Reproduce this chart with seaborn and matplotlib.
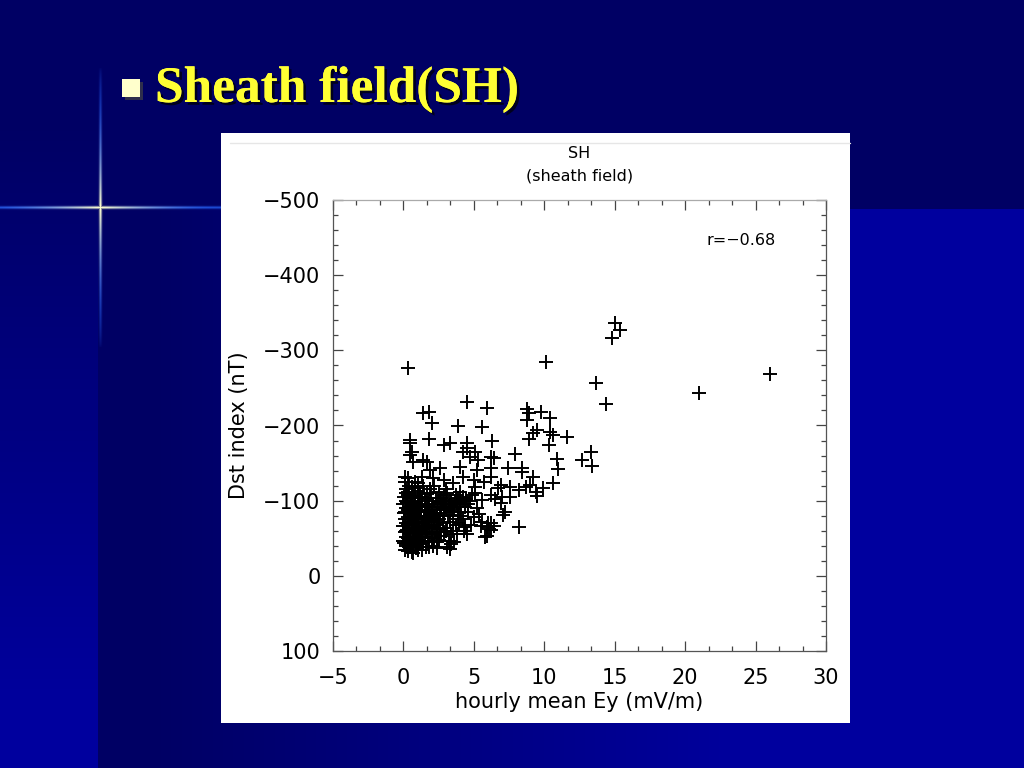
import numpy as np
import matplotlib
matplotlib.use("Agg")
import matplotlib.pyplot as plt
import matplotlib.patheffects as pe
from matplotlib.patches import Rectangle
from matplotlib.ticker import AutoMinorLocator
import seaborn as sns

# Ey (mV/m) and Dst (nT)
# dense core, x 0 - 2
core_ey = [0.1, 0.2, 0.3, 0.1, 0.4, 0.2, 0.3, 0.1, 0.4, 0.2, 0.3, 0.5, 0.5, 0.4, 0.0, 0.0, 0.2, 0.4, 0.1, 0.3, 0.5, 0.5, 0.3, 0.2,
           0.6, 0.7, 0.8, 0.9, 1.0, 1.1, 0.6, 0.7, 0.8, 0.9, 1.0, 1.1, 1.2, 0.6, 0.8, 1.0, 1.2, 0.7, 0.9, 1.1, 1.2, 0.6, 0.8, 1.0, 1.2, 0.7, 0.9, 1.1, 1.0, 0.8,
           1.3, 1.4, 1.5, 1.6, 1.7, 1.8, 1.9, 2.0, 1.3, 1.5, 1.7, 1.9, 1.4, 1.6, 1.8, 2.0, 1.3, 1.5, 1.7, 1.9, 2.0, 1.4, 1.6, 1.8]
core_dst = [-35, -42, -50, -58, -63, -70, -78, -85, -92, -100, -108, -38, -55, -72, -47, -66, -115, -120, -125, -130, -88, -104, -33, -60,
            -32, -40, -46, -53, -59, -64, -68, -75, -82, -90, -96, -103, -110, -118, -125, -35, -42, -57, -70, -79, -87, -94, -107, -113, -52, -30, -37, -48, -72, -63,
            -34, -44, -51, -58, -66, -73, -81, -88, -95, -102, -109, -116, -62, -77, -39, -46, -70, -85, -92, -55, -63, -120, -38, -99]

# more of the solid black core
core2_ey = [0.05, 0.15, 0.25, 0.35, 0.45, 0.05, 0.15, 0.25, 0.35, 0.45, 0.05, 0.15, 0.25, 0.35, 0.45, 0.1, 0.3, 0.2, 0.4, 0.0,
            0.55, 0.65, 0.75, 0.85, 0.95, 1.05, 1.15, 0.55, 0.65, 0.75, 0.85, 0.95, 1.05, 1.15, 0.6, 0.8, 1.0, 0.7, 0.9, 1.1,
            1.25, 1.35, 1.45, 1.55, 1.65, 1.75, 1.85, 1.95, 1.25, 1.45, 1.65, 1.85, 1.35, 1.55, 1.75, 1.95, 2.05, 2.15, 2.25, 2.35,
            2.45, 2.55, 2.65, 2.75, 2.05, 2.25, 2.45, 2.65, 2.85, 2.95, 3.05, 3.15, 3.25, 3.45, 3.55, 3.75, 3.85, 4.05, 4.25, 4.45,
            4.6, 4.1, 3.95, 3.65, 4.35, 2.85, 3.35, 2.55, 2.35, 1.05]
core2_dst = [-44, -52, -61, -67, -75, -83, -90, -97, -45, -82, -105, -110, -98, -112, -49, -75, -88, -40, -57, -95,
             -43, -50, -61, -70, -77, -85, -92, -100, -84, -66, -98, -44, -117, -58, -80, -72, -88, -106, -62, -94,
             -45, -56, -67, -79, -86, -93, -63, -72, -80, -75, -58, -88, -105, -95, -45, -110, -55, -68, -74, -81,
             -64, -72, -88, -95, -82, -92, -98, -104, -90, -95, -100, -80, -97, -88, -92, -102, -85, -97, -105, -102,
             -96, -80, -70, -100, -92, -58, -43, -48, -37, -123]

# x 2 - 4.2
mid_ey = [2.1, 2.2, 2.3, 2.4, 2.5, 2.6, 2.7, 2.8, 2.9, 3.0, 2.2, 2.4, 2.6, 2.8, 3.0, 2.1, 2.3, 2.5, 2.7, 2.9, 2.4, 2.6, 3.0, 2.2,
          3.1, 3.3, 3.2, 3.4, 3.1, 3.3, 3.5, 3.6, 3.8, 3.9, 3.2, 3.4, 3.7, 3.5, 3.7, 3.9, 4.0, 3.6, 3.8, 4.1, 4.2, 4.0, 3.3, 3.1]
mid_dst = [-40, -50, -58, -67, -75, -84, -92, -100, -108, -115, -78, -45, -62, -70, -88, -96, -104, -112, -53, -80, -88, -97, -60, -120,
           -38, -36, -47, -55, -64, -72, -81, -90, -97, -104, -93, -100, -108, -60, -68, -76, -85, -45, -55, -92, -100, -112, -85, -110]

# band x 4 - 8.5
band_ey = [4.3, 4.5, 4.8, 5.0, 4.6, 4.4, 4.7, 5.2, 5.4, 5.6, 5.9, 6.2, 6.4, 4.9, 5.1, 4.2, 4.4, 5.8, 6.1,
           5.95, 6.25, 6.0, 7.1, 7.2, 8.2, 6.9, 6.2, 5.6, 5.1, 7.6, 5.5, 6.5, 7.0]
band_dst = [-60, -55, -68, -78, -85, -95, -100, -90, -82, -72, -65, -70, -66, -108, -118, -75, -65, -52, -62,
            -53, -61, -70, -81, -85, -65, -97, -108, -101, -110, -105, -66, -102, -105]

# sparse upper points
upper_ey = [4.5, 5.9, 1.4, 1.85, 2.0, 3.9, 5.6, 8.8, 8.9, 9.8, 10.4, 8.8, 9.5, 9.2, 10.4, 10.6, 8.9, 10.3, 11.6,
            0.5, 0.5, 1.8, 0.6, 0.5, 2.9, 3.3, 4.5, 6.3, 4.2, 4.5, 5.1, 6.2, 6.4, 4.75, 5.3, 1.4, 0.7, 1.7,
            2.6, 1.9, 4.0, 5.25, 6.2, 7.45, 7.9, 8.45, 8.45, 9.2, 10.9, 11.0, 12.7, 13.3, 13.4,
            0.14, 1.3, 2.1, 2.85, 3.5, 4.2, 5.0, 5.7, 6.2, 6.9, 6.7, 7.6, 8.7, 9.4, 9.9, 10.6, 9.5, 8.2, 9.0]
upper_dst = [-231, -223, -216, -218, -203, -199, -198, -222, -217, -218, -210, -207, -194, -190, -191, -187, -182, -174, -185,
             -181, -177, -182, -165, -161, -174, -177, -177, -180, -165, -170, -165, -158, -157, -158, -154, -154, -152, -152,
             -143, -141, -145, -141, -143, -143, -162, -143, -138, -132, -155, -142, -154, -165, -146,
             -132, -132, -130, -128, -123, -132, -128, -125, -132, -121, -117, -118, -118, -112, -117, -123, -106, -114, -121]

# extreme events
far_ey = [0.35, 10.1, 15.0, 14.8, 15.4, 13.7, 14.4, 21.0, 26.0]
far_dst = [-277, -285, -336, -317, -327, -256, -229, -243, -268]

ey = core_ey + core2_ey + mid_ey + band_ey + upper_ey + far_ey
dst = core_dst + core2_dst + mid_dst + band_dst + upper_dst + far_dst

x_ticks = [-5, 0, 5, 10, 15, 20, 25, 30]
y_ticks = [-500, -400, -300, -200, -100, 0, 100]
r_text = "r=\u22120.68"

sns.set_style("white")
plt.rcParams['font.family'] = ['DejaVu Sans']
plt.rcParams['text.color'] = 'black'
plt.rcParams['axes.labelcolor'] = 'black'

fig = plt.figure(figsize=(10.24, 7.68), dpi=100)
W, H = 1024, 768

# slide background with the flare cross baked in
bg = fig.add_axes([0, 0, 1, 1], zorder=-10)
dark = np.array([0, 0, 100]) / 255
bright = np.array([0, 0, 158]) / 255
gx, gy = np.meshgrid(np.arange(W), np.arange(H))
t = np.clip((gx - 150) / 600.0, 0, 1) * (gy > 208) * (gx > 100)
t_left = np.clip((gy - 120) / 600.0, 0, 1) * (gx < 98)
t = np.maximum(t, t_left)
img = dark[None, None, :] * (1 - t[..., None]) + bright[None, None, :] * t[..., None]

cx, cy = 100, 207
dx, dy = np.abs(gx - cx), np.abs(gy - cy)
h_line = np.exp(-(dy / 1.4) ** 2) * np.clip(1 - dx / 260.0, 0, 1) ** 0.6 * (gx < 235)
v_line = np.exp(-(dx / 1.4) ** 2) * np.clip(1 - dy / 140.0, 0, 1) ** 0.6
glow = np.clip(np.maximum(h_line, v_line), 0, 1)
dist = np.where(dy < 3, dx, dy).astype(float)
white_w = np.clip(1 - dist / 110.0, 0, 1) ** 1.5
flare_col = np.stack([0.15 + 0.85 * white_w, 0.4 + 0.6 * white_w, 1.0 - 0.2 * white_w], axis=-1)
img = img * (1 - glow[..., None]) + flare_col * glow[..., None]

bg.imshow(img, extent=(0, W, H, 0), aspect='auto', interpolation='nearest')
bg.set_xlim(0, W)
bg.set_ylim(H, 0)
bg.axis('off')

# slide title
fig.patches.append(Rectangle((122 / W, 1 - 97 / H), 18 / W, 18 / H, transform=fig.transFigure,
                             facecolor='#FFFFCC', edgecolor='none',
                             path_effects=[pe.withSimplePatchShadow(offset=(2, -2), alpha=0.6)]))
fig.text(155 / W, 1 - 102 / H, "Sheath field(SH)", color='#FFFF33', fontsize=37,
         family=['Liberation Serif', 'DejaVu Serif'], fontweight='bold', va='baseline',
         path_effects=[pe.withSimplePatchShadow(offset=(2, -2), shadow_rgbFace='black', alpha=0.7), pe.Normal()])

# white picture panel
fig.patches.append(Rectangle((221 / W, 1 - 723 / H), 629 / W, 590 / H, transform=fig.transFigure,
                             facecolor='white', edgecolor='none', zorder=-5))
fig.add_artist(plt.Line2D([230 / W, 850 / W], [1 - 143 / H, 1 - 143 / H], color='#e6e6e6', lw=1))

ax = fig.add_axes([333 / W, 1 - 651 / H, 493 / W, 451 / H])
ax.set_facecolor('white')
sns.scatterplot(x=ey, y=dst, marker='+', s=100, color='black', linewidth=1.4, ax=ax)

ax.set_xlim(-5, 30)
ax.set_ylim(100, -500)
ax.set_xticks(x_ticks)
ax.set_yticks(y_ticks)
ax.xaxis.set_minor_locator(AutoMinorLocator(3))
ax.yaxis.set_minor_locator(AutoMinorLocator(5))
ax.tick_params(which='both', direction='in', top=True, right=True, bottom=True, left=True,
               colors='#444444', labelcolor='black', labelsize=15, width=0.9)
ax.tick_params(which='major', length=7)
ax.tick_params(axis='x', which='major', pad=12)
ax.tick_params(axis='y', which='major', pad=9)
ax.tick_params(which='minor', length=3.5)
for sp in ax.spines.values():
    sp.set_color('#555555')
    sp.set_linewidth(0.9)
ax.spines['top'].set_color('#aaaaaa')

ax.set_xlabel("hourly mean Ey (mV/m)", fontsize=15, labelpad=3)
ax.set_ylabel("Dst index (nT)", fontsize=15, labelpad=10)
ax.set_title("SH\n(sheath field)", fontsize=11.5, pad=14, linespacing=1.6, color='black')
ax.text(0.757, 0.91, r_text, transform=ax.transAxes, fontsize=11.5, va='center', ha='left')

fig.savefig("out.png", dpi=100, facecolor=fig.get_facecolor())
